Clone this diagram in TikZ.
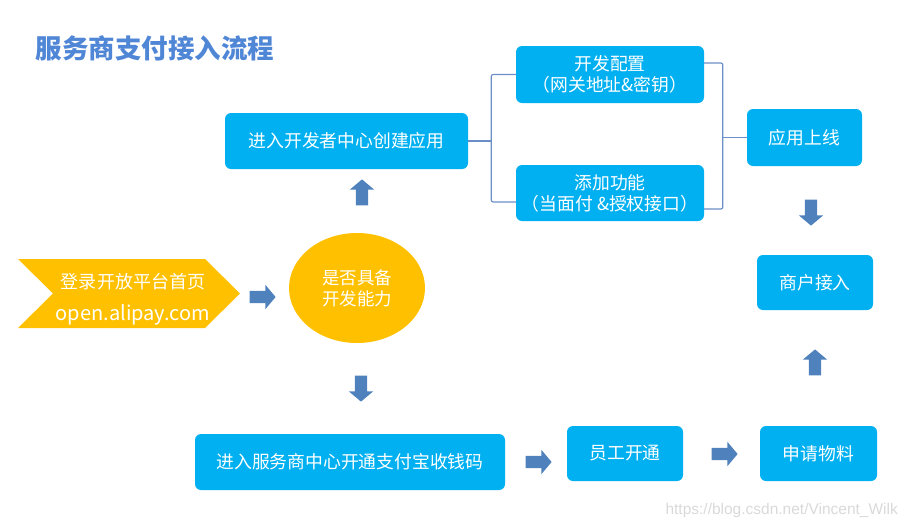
\documentclass[tikz,border=0pt]{standalone}
\usepackage{fontspec}
\setmainfont{Noto Sans CJK SC}
\newfontfamily\markfont{Liberation Sans}
\usetikzlibrary{shapes.geometric,shapes.arrows}
\definecolor{boxblue}{RGB}{0,176,240}
\definecolor{gold}{RGB}{255,192,0}
\definecolor{arrowblue}{RGB}{79,129,189}
\definecolor{linkblue}{RGB}{108,142,198}
\definecolor{titleblue}{RGB}{79,134,214}

\begin{document}
\begin{tikzpicture}[x=1pt,y=-1pt,
    stage/.style={rectangle,rounded corners=6pt,fill=boxblue,text=white,
        font=\fontsize{17.8}{21}\selectfont,align=center,inner sep=0pt},
    blockarrow/.style={single arrow,fill=arrowblue,inner sep=0pt,
        text height=6pt,text depth=6pt,text width=0pt,
        minimum height=26pt,minimum width=24pt,
        single arrow head extend=6pt,single arrow tip angle=100},
    link/.style={draw=linkblue,line width=1.2pt,rounded corners=2pt}]
    \useasboundingbox (0,0) rectangle (910,528);

    \node[anchor=west,text=titleblue,font=\fontsize{26.5}{30}\selectfont\bfseries] (title) at (32,48) {服务商支付接入流程};

    \fill[gold] (18,259) -- (205,259) -- (240,293.5) -- (205,328) -- (18,328) -- (53,293.5) -- cycle;
    \node[text=white,align=center,font=\fontsize{18}{32}\selectfont] (login) at (133,299) {登录开放平台首页\\{\fontsize{20}{32}\selectfont open.alipay.com}};
    \node[ellipse,fill=gold,minimum width=136,minimum height=110,inner sep=0pt,text=white,
        align=center,font=\fontsize{17.5}{21}\selectfont] (ask) at (357,288) {是否具备\\开发能力};

    \node[stage,minimum width=243,minimum height=56] (dev) at (346.5,141) {进入开发者中心创建应用};
    \node[stage,minimum width=188,minimum height=57] (cfg) at (610,74.5) {开发配置\\（网关地址\&密钥）};
    \node[stage,minimum width=188,minimum height=56] (func) at (610,193) {添加功能\\（当面付 \&授权接口）};
    \node[stage,minimum width=115,minimum height=57] (live) at (804.5,137.5) {应用上线};
    \node[stage,minimum width=116,minimum height=55] (shop) at (815,282.5) {商户接入};
    \node[stage,minimum width=117,minimum height=55] (mat) at (818.5,453.5) {申请物料};
    \node[stage,minimum width=116,minimum height=55] (staff) at (625,453.5) {员工开通};
    \node[stage,minimum width=310,minimum height=56] (qr) at (350,462) {进入服务商中心开通支付宝收钱码};

    \node[blockarrow] (a1) at (260,297) {};
    \node[blockarrow,rotate=90] (a2) at (362,195) {};
    \node[blockarrow,rotate=-90] (a3) at (361,386) {};
    \node[blockarrow] (a4) at (536,462) {};
    \node[blockarrow] (a5) at (722,454) {};
    \node[blockarrow,rotate=90] (a6) at (815,365) {};
    \node[blockarrow,rotate=-90] (a7) at (811,210) {};

    \coordinate (lx) at ([xshift=23pt]dev.east);
    \draw[link] (dev.east) -- (lx);
    \draw[link] (cfg.west) -| (lx) |- ([yshift=-9pt]func.west);
    \coordinate (rx) at ([xshift=-24pt]live.west);
    \draw[link] ([yshift=11.5pt]cfg.east) -| (rx) |- ([yshift=-16pt]func.east);
    \draw[link] (rx) -- (live.west);

    \node[anchor=west,text=black!15,font=\markfont\fontsize{15.5}{17}\selectfont] (mark) at (662,510) {https://blog.csdn.net/Vincent\_Wilk};
\end{tikzpicture}
\end{document}
